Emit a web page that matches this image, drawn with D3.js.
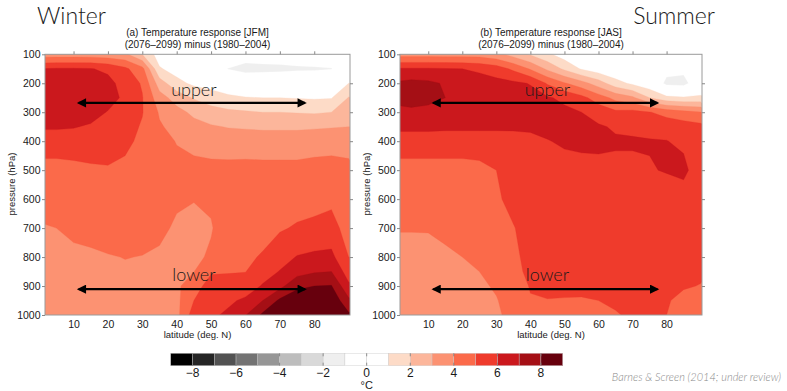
<!DOCTYPE html>
<html>
<head>
<meta charset="utf-8">
<script src="https://cdn.jsdelivr.net/npm/d3@7"></script>
<style>
body { margin: 0; background: #fff; }
svg { display: block; font-family: "Liberation Sans", Arial, sans-serif; }
</style>
</head>
<body>
<svg id="chart"></svg>
<script>
// grid: latitude columns, pressure rows
var lats = [0,5,10,15,20,25,30,35,40,45,50,55,60,65,70,75,80,85,90];
var levels = [100,150,200,250,300,350,400,500,600,700,800,850,900,950,1000];

// temperature response (deg C), one row per pressure level
var winterT = [
  [3.5,3.5,3.5,3.5,3.4,3.2,2.0,0.5,0.5,0.5,0.4,0.3,-0.4,-0.3,-0.3,-0.2,-0.1,0.0,0.3],
  [6.0,6.1,6.1,6.05,5.8,5.2,4.3,1.1,0.6,0.2,-0.3,-1.05,-1.4,-1.35,-1.3,-1.2,-1.15,-1.05,0.6],
  [6.6,6.6,6.6,6.5,6.3,5.6,4.9,2.5,1.3,0.8,0.6,0.3,0.1,0.1,0.15,0.2,0.2,0.3,1.0],
  [6.7,6.7,6.7,6.6,6.4,5.8,5.05,3.4,2.6,1.9,1.5,1.2,1.05,1.0,1.0,0.95,0.9,0.95,2.05],
  [6.5,6.5,6.45,6.35,5.95,5.6,5.05,3.9,3.3,2.8,2.4,2.2,2.1,2.0,2.0,1.95,1.9,2.0,2.6],
  [6.1,6.1,6.05,5.9,5.7,5.4,4.9,4.1,3.7,3.3,3.1,2.95,2.9,2.85,2.85,2.85,2.9,2.95,3.0],
  [5.6,5.6,5.6,5.5,5.5,5.2,4.8,4.4,3.95,3.8,3.6,3.55,3.5,3.45,3.45,3.45,3.5,3.5,3.55],
  [4.6,4.6,4.7,4.85,4.9,4.8,4.6,4.5,4.3,4.2,4.25,4.25,4.3,4.3,4.3,4.3,4.4,4.5,4.3],
  [4.2,4.2,4.4,4.5,4.6,4.6,4.5,4.45,4.1,4.02,4.1,4.3,4.4,4.5,4.5,4.6,4.7,4.8,4.4],
  [3.95,4.0,4.2,4.3,4.4,4.4,4.3,4.15,3.9,3.85,3.95,4.4,4.5,4.6,4.9,5.1,5.2,5.35,4.6],
  [3.7,3.75,3.8,3.85,3.95,4.02,3.98,3.9,3.8,3.85,4.1,4.6,4.8,5.1,5.6,6.05,6.2,6.25,5.0],
  [3.65,3.7,3.75,3.8,3.85,3.9,3.92,3.85,3.8,3.98,4.9,4.95,4.98,5.5,6.05,6.6,6.9,7.0,5.5],
  [3.6,3.65,3.7,3.75,3.75,3.8,3.85,3.8,3.8,4.6,5.4,5.3,5.4,6.1,6.7,7.8,8.0,8.05,6.2],
  [3.55,3.6,3.65,3.7,3.7,3.75,3.8,3.78,3.75,5.0,5.6,5.8,6.2,7.0,8.2,8.6,8.7,8.8,7.2],
  [3.5,3.55,3.6,3.6,3.6,3.6,3.65,3.7,3.7,5.5,5.8,6.2,6.95,8.2,8.8,8.9,8.9,8.9,8.2]
];

var summerT = [
  [3.6,3.6,3.6,3.6,3.6,3.6,3.3,2.6,1.9,1.2,0.5,0.3,0.2,0.2,0.1,0.1,0.0,0.0,0.0],
  [6.1,6.1,6.1,6.05,6.0,5.8,5.5,4.8,3.9,2.8,1.8,0.9,0.4,0.1,-0.3,0.0,-0.6,-0.7,0.0],
  [7.1,7.3,7.2,6.9,6.6,6.5,6.3,6.2,5.95,4.9,4.1,3.4,2.5,1.4,0.8,0.3,-1.3,-1.4,0.0],
  [7.2,7.3,7.2,7.0,6.7,6.6,6.5,6.4,6.3,6.1,5.8,5.3,4.5,3.7,3.2,2.0,1.3,1.15,1.2],
  [6.8,6.85,6.8,6.7,6.6,6.55,6.5,6.45,6.4,6.3,6.2,6.0,5.6,5.2,5.3,5.05,4.6,4.3,4.05],
  [6.2,6.2,6.2,6.15,6.15,6.15,6.15,6.15,6.2,6.3,6.3,6.25,6.1,5.9,5.8,5.75,5.7,5.5,5.3],
  [5.6,5.6,5.6,5.6,5.6,5.6,5.6,5.65,5.7,5.95,6.15,6.2,6.2,6.1,6.1,6.05,6.02,5.85,5.4],
  [4.6,4.6,4.6,4.6,4.6,4.7,5.0,5.4,5.5,5.55,5.6,5.7,5.75,5.8,5.8,5.95,6.05,6.2,5.5],
  [4.45,4.45,4.45,4.45,4.5,4.6,4.85,5.3,5.45,5.5,5.5,5.5,5.5,5.5,5.5,5.5,5.6,5.6,5.5],
  [4.05,4.05,4.05,4.2,4.35,4.5,4.7,4.95,5.4,5.45,5.45,5.45,5.45,5.45,5.45,5.45,5.45,5.45,5.45],
  [3.7,3.7,3.75,3.85,4.0,4.2,4.45,4.8,5.3,5.4,5.4,5.4,5.4,5.4,5.4,5.4,5.4,5.4,5.3],
  [3.65,3.65,3.7,3.75,3.85,4.0,4.3,4.75,5.2,5.3,5.35,5.35,5.35,5.35,5.35,5.35,5.35,5.3,5.1],
  [3.6,3.6,3.6,3.65,3.7,3.85,4.1,4.6,5.05,5.15,5.2,5.15,5.15,5.2,5.2,5.2,5.15,5.05,4.98],
  [3.55,3.55,3.55,3.6,3.65,3.75,3.95,4.4,4.95,4.98,4.95,4.95,5.0,5.1,5.1,5.1,5.05,4.85,4.7],
  [3.5,3.5,3.5,3.55,3.6,3.7,3.9,4.2,4.7,4.7,4.7,4.75,4.8,4.95,5.1,5.1,5.0,4.7,4.5]
];

// colour scale: bin edges and one colour per bin
var binEdges = [-9,-8,-7,-6,-5,-4,-3,-2,-1,0,1,2,3,4,5,6,7,8,9];
var binColors = ["#000000","#252525","#525252","#737373","#969696","#bdbdbd","#d9d9d9","#efefef",
                 "#ffffff","#ffffff","#fddbc7","#fcb69b","#fc9272","#fb6a4a","#ef3b2c","#cb181d","#a50f15","#67000d"];
var cbarLabels = [-8,-6,-4,-2,0,2,4,6,8];

var latTicks = [10,20,30,40,50,60,70,80];
var presTicks = [100,200,300,400,500,600,700,800,900,1000];

// annotation arrows: latitude span and pressure, label position
var arrowLats = [11.5, 77.3];
var arrowLevels = [268, 911];
var arrowNames = ["upper", "lower"];
var arrowLabelP = [244, 883];

var panels = [
  {grid: winterT, left: 45, right: 350, season: "Winter", seasonX: 37, seasonAnchor: "start",
   title1: "(a) Temperature response [JFM]", title2: "(2076\u20132099) minus (1980\u20132004)", id: "w"},
  {grid: summerT, left: 400, right: 702, season: "Summer", seasonX: 715, seasonAnchor: "end",
   title1: "(b) Temperature response [JAS]", title2: "(2076\u20132099) minus (1980\u20132004)", id: "s"}
];

var dimensions = { width: 787, height: 391, plotTop: 54.3, plotBottom: 315 };

var svg = d3.select("#chart")
            .attr("width", dimensions.width)
            .attr("height", dimensions.height);

var defs = svg.append("defs");
defs.append("marker")
    .attr("id", "head")
    .attr("viewBox", "0 0 10 10")
    .attr("refX", 8).attr("refY", 5)
    .attr("markerWidth", 4.6).attr("markerHeight", 4.2)
    .attr("orient", "auto-start-reverse")
    .append("path")
    .attr("d", "M0,0 L10,5 L0,10 z")
    .attr("fill", "#000");

var colToLat = d3.scaleLinear().domain(d3.range(lats.length)).range(lats);
var rowToP = d3.scaleLinear().domain(d3.range(levels.length)).range(levels);

var yScale = d3.scaleLinear()
               .domain([100, 1000])
               .range([dimensions.plotTop, dimensions.plotBottom]);

panels.forEach(function(pn) {
  var xScale = d3.scaleLinear()
                 .domain([1.7, 90.4])
                 .range([pn.left, pn.right]);

  var proj = d3.geoTransform({
    point: function(cx, cy) {
      this.stream.point(xScale(colToLat(cx - 0.5)), yScale(rowToP(cy - 0.5)));
    }
  });
  var path = d3.geoPath(proj);

  var contours = d3.contours()
                   .size([lats.length, levels.length])
                   .thresholds(binEdges.slice(0, -1))(pn.grid.flat());

  defs.append("clipPath").attr("id", "clip-" + pn.id)
      .append("rect")
      .attr("x", pn.left).attr("y", dimensions.plotTop)
      .attr("width", pn.right - pn.left)
      .attr("height", dimensions.plotBottom - dimensions.plotTop);

  var g = svg.append("g").attr("clip-path", "url(#clip-" + pn.id + ")");
  g.selectAll("path")
   .data(contours)
   .join("path")
   .attr("d", path)
   .attr("fill", function(d, i) { return binColors[i]; })
   .attr("stroke", function(d, i) { return binColors[i]; })
   .attr("stroke-width", 0.3);

  // frame
  svg.append("rect")
     .attr("x", pn.left).attr("y", dimensions.plotTop)
     .attr("width", pn.right - pn.left)
     .attr("height", dimensions.plotBottom - dimensions.plotTop)
     .attr("fill", "none").attr("stroke", "#9a9a9a").attr("stroke-width", 1);

  // axes
  var yAxis = svg.append("g")
                 .attr("transform", "translate(" + pn.left + ",0)")
                 .call(d3.axisLeft(yScale).tickValues(presTicks).tickSize(3).tickPadding(1.5)
                         .tickFormat(d3.format("d")));
  var xAxis = svg.append("g")
                 .attr("transform", "translate(0," + dimensions.plotBottom + ")")
                 .call(d3.axisBottom(xScale).tickValues(latTicks).tickSize(0).tickPadding(6));
  var topAxis = svg.append("g")
                   .attr("transform", "translate(0," + dimensions.plotTop + ")")
                   .call(d3.axisTop(xScale).tickValues(latTicks).tickSize(3).tickFormat(""));
  var rightAxis = svg.append("g")
                     .attr("transform", "translate(" + pn.right + ",0)")
                     .call(d3.axisRight(yScale).tickValues(presTicks.slice(1, -1)).tickSize(3).tickFormat(""));
  [yAxis, xAxis, topAxis, rightAxis].forEach(function(a) {
    a.select(".domain").remove();
    a.selectAll(".tick line").attr("stroke", "#888");
    a.selectAll("text").attr("font-size", "10.5px").attr("fill", "#1a1a1a")
     .attr("font-family", "Liberation Sans, Arial, sans-serif");
  });

  // axis titles
  svg.append("text")
     .attr("x", (pn.left + pn.right) / 2).attr("y", 338)
     .attr("text-anchor", "middle").attr("font-size", "9.5px").attr("fill", "#1a1a1a")
     .text("latitude (deg. N)");
  svg.append("text")
     .attr("transform", "translate(" + (pn.left - 30.5) + "," + 184 + ") rotate(-90)")
     .attr("text-anchor", "middle").attr("font-size", "9.5px").attr("fill", "#1a1a1a")
     .text("pressure (hPa)");

  // titles
  svg.append("text")
     .attr("x", (pn.left + pn.right) / 2).attr("y", 36)
     .attr("text-anchor", "middle").attr("font-size", "10px").attr("fill", "#1a1a1a")
     .text(pn.title1);
  svg.append("text")
     .attr("x", (pn.left + pn.right) / 2).attr("y", 48)
     .attr("text-anchor", "middle").attr("font-size", "10px").attr("fill", "#1a1a1a")
     .text(pn.title2);
  svg.append("text")
     .attr("x", pn.seasonX).attr("y", 23.5)
     .attr("text-anchor", pn.seasonAnchor)
     .attr("font-family", "Lato, sans-serif").attr("font-weight", 300)
     .attr("font-size", "23px").attr("fill", "#1a1a1a")
     .text(pn.season);

  // arrows
  arrowLevels.forEach(function(p, k) {
    svg.append("line")
       .attr("x1", xScale(arrowLats[0])).attr("x2", xScale(arrowLats[1]))
       .attr("y1", yScale(p)).attr("y2", yScale(p))
       .attr("stroke", "#000").attr("stroke-width", 2.2)
       .attr("marker-start", "url(#head)").attr("marker-end", "url(#head)");
    svg.append("text")
       .attr("x", xScale(45)).attr("y", yScale(arrowLabelP[k]))
       .attr("text-anchor", "middle")
       .attr("font-family", "Lato, sans-serif").attr("font-weight", 300)
       .attr("font-size", "18px").attr("fill", "#1a1a1a")
       .text(arrowNames[k]);
  });
});

// colour bar
var cbX = d3.scaleLinear().domain([binEdges[0], binEdges[binEdges.length - 1]]).range([170.7, 562.7]);
var cbTop = 353.3, cbH = 12.4;
var cb = svg.append("g");
cb.selectAll("rect")
  .data(binColors)
  .join("rect")
  .attr("x", function(d, i) { return cbX(binEdges[i]); })
  .attr("y", cbTop)
  .attr("width", function(d, i) { return cbX(binEdges[i + 1]) - cbX(binEdges[i]); })
  .attr("height", cbH)
  .attr("fill", function(d) { return d; })
  .attr("stroke", "#c8c8c8").attr("stroke-width", 0.4);
cb.selectAll("line.tk")
  .data(cbarLabels)
  .join("line").attr("class", "tk")
  .attr("x1", function(d) { return cbX(d); }).attr("x2", function(d) { return cbX(d); })
  .attr("y1", cbTop).attr("y2", cbTop + 3)
  .attr("stroke", "#777").attr("stroke-width", 0.8);
cb.selectAll("line.bk")
  .data(cbarLabels)
  .join("line").attr("class", "bk")
  .attr("x1", function(d) { return cbX(d); }).attr("x2", function(d) { return cbX(d); })
  .attr("y1", cbTop + cbH - 3).attr("y2", cbTop + cbH)
  .attr("stroke", "#777").attr("stroke-width", 0.8);
cb.selectAll("text.lab")
  .data(cbarLabels)
  .join("text").attr("class", "lab")
  .attr("x", function(d) { return cbX(d); })
  .attr("y", 377)
  .attr("text-anchor", "middle").attr("font-size", "12px").attr("fill", "#1a1a1a")
  .text(function(d) { return d < 0 ? "\u2212" + Math.abs(d) : d; });
cb.append("text")
  .attr("x", cbX(0)).attr("y", 388.5)
  .attr("text-anchor", "middle").attr("font-size", "11px").attr("fill", "#1a1a1a")
  .text("\u00B0C");

svg.append("text")
   .attr("x", 781).attr("y", 381)
   .attr("text-anchor", "end")
   .attr("font-family", "Lato, sans-serif").attr("font-style", "italic").attr("font-weight", 300)
   .attr("font-size", "11px").attr("fill", "#8a8a8a")
   .text("Barnes & Screen (2014; under review)");
</script>
</body>
</html>
